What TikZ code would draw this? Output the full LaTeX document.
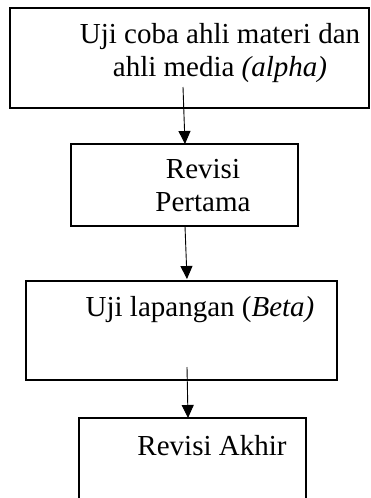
\documentclass[tikz,border=0pt]{standalone}
\usepackage{fontspec}
\setmainfont{Liberation Serif}
\usetikzlibrary{arrows.meta}
\begin{document}
\begin{tikzpicture}[x=1pt,y=-1pt,
  box/.style={draw=black, line width=1.1pt},
  lbl/.style={anchor=base, inner sep=0pt, font=\fontsize{29}{33}\selectfont},
  conn/.style={draw=black, line width=0.9pt, -{Triangle[length=13pt,width=12pt]}}]
\useasboundingbox (0,0) rectangle (370,498);
\clip (0,0) rectangle (370,498);
% boxes
\draw[box] (10,8) rectangle (369,108);
\draw[box] (71,144) rectangle (298,226);
\draw[box] (26,281) rectangle (337,380);
\draw[box] (79,418) rectangle (306,520);
% texts
\node[lbl] (t1a) at (220,43) {Uji coba ahli materi dan};
\node[lbl] (t1b) at (220,76) {ahli media \textit{(alpha)}};
\node[lbl] (t2a) at (203,178) {Revisi};
\node[lbl] (t2b) at (203,211) {Pertama};
\node[lbl] (t3) at (200,316) {Uji lapangan (\textit{Beta)}};
\node[lbl] (t4) at (212,455) {Revisi Akhir};
% connector endpoints
\coordinate (s1) at (183,87);
\coordinate (e1) at (185,144);
\coordinate (s2) at (185,226);
\coordinate (e2) at (187,279);
\coordinate (s3) at (187,367);
\coordinate (e3) at (188,418);
\draw[conn] (s1) -- (e1);
\draw[conn] (s2) -- (e2);
\draw[conn] (s3) -- (e3);
\end{tikzpicture}
\end{document}
